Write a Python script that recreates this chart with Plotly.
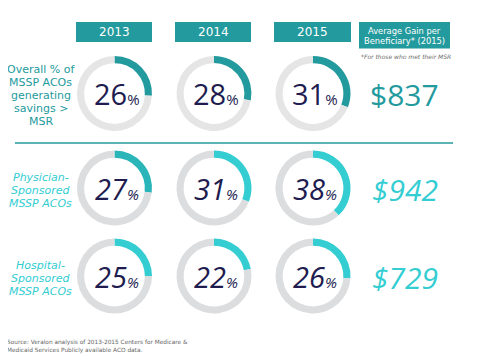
import plotly.graph_objects as go

years = ["2013", "2014", "2015"]
row_labels = [
    ["Overall % of", "MSSP ACOs", "generating", "savings >", "MSR"],
    ["Physician-", "Sponsored", "MSSP ACOs"],
    ["Hospital-", "Sponsored", "MSSP ACOs"],
]
overall_pct = [26, 28, 31]
physician_pct = [27, 31, 38]
hospital_pct = [25, 22, 26]
avg_gain = ["$837", "$942", "$729"]
gain_header = ["Average Gain per", "Beneficiary* (2015)"]
gain_note = "<i>*For those who met their MSR</i>"
source_lines = ["Source: Veralon analysis of 2013-2015 Centers for Medicare &",
                "Medicaid Services Publicly available ACO data."]

rows = [overall_pct, physician_pct, hospital_pct]

# page has an 8px body margin; figure occupies the rest of the 480x360 window
OFF = 8
W, H = 480 - OFF, 360 - OFF
TEAL = "#239a9d"
CYAN = "#33cdd2"
NAVY = "#211c4f"

col_cx = [114.5, 214, 313]
row_cy = [93.5, 188, 276]
R = 37.5

arc_colors = [
    [TEAL, TEAL, TEAL],
    ["#2ab6b9", CYAN, CYAN],
    [CYAN, CYAN, CYAN],
]
gray_colors = ["#e5e5e5", "#dcdddf", "#dcdddf"]

def px(x):
    return (x - OFF) / W

def py(y):
    return 1 - (y - OFF) / H

fig = go.Figure()

for r, vals in enumerate(rows):
    for c, v in enumerate(vals):
        cx, cy = col_cx[c], row_cy[r]
        fig.add_trace(go.Pie(
            values=[v, 100 - v],
            hole=0.81,
            sort=False,
            direction="clockwise",
            rotation=0,
            textinfo="none",
            hoverinfo="skip",
            marker=dict(colors=[arc_colors[r][c], gray_colors[r]], line=dict(width=0)),
            domain=dict(x=[px(cx - R), px(cx + R)], y=[py(cy + R), py(cy - R)]),
            showlegend=False,
        ))
        italic = r > 0
        num = f"<i>{v}</i>" if italic else f"{v}"
        pct = "<i>%</i>" if italic else "%"
        fig.add_annotation(
            x=px(cx + 2), y=py(cy), xref="paper", yref="paper",
            text=f"{num}<span style='font-size:15px'>{pct}</span>",
            showarrow=False, xanchor="center", yanchor="middle",
            font=dict(family="Open Sans", size=29, color=NAVY),
        )

shapes = []
header_x = [(76, 152), (175, 251), (274, 351)]
for (x0, x1), yr in zip(header_x, years):
    shapes.append(dict(type="rect", xref="paper", yref="paper",
                       x0=px(x0), x1=px(x1), y0=py(42), y1=py(22),
                       fillcolor=TEAL, line=dict(width=0)))
    fig.add_annotation(x=px((x0 + x1) / 2), y=py(32.5), xref="paper", yref="paper",
                       text=yr, showarrow=False, xanchor="center", yanchor="middle",
                       font=dict(family="DejaVu Sans", size=12, color="white"))
shapes.append(dict(type="rect", xref="paper", yref="paper",
                   x0=px(359), x1=px(450), y0=py(48.5), y1=py(22),
                   fillcolor=TEAL, line=dict(width=0)))
for i, ln in enumerate(gain_header):
    fig.add_annotation(x=px(404.5), y=py(31 + 10 * i), xref="paper", yref="paper",
                       text=ln, showarrow=False, xanchor="center", yanchor="middle",
                       font=dict(family="DejaVu Sans", size=8.3, color="white"))
fig.add_annotation(x=px(406), y=py(57), xref="paper", yref="paper",
                   text=gain_note, showarrow=False, xanchor="center", yanchor="middle",
                   font=dict(family="DejaVu Sans", size=6, color="#6a6a6a"))

shapes.append(dict(type="line", xref="paper", yref="paper",
                   x0=px(15), x1=px(453), y0=py(143), y1=py(143),
                   line=dict(color=TEAL, width=1.5)))

label_colors = [TEAL, CYAN, CYAN]
line_gap = 13
for r, lines in enumerate(row_labels):
    n = len(lines)
    for i, ln in enumerate(lines):
        yy = row_cy[r] + 2 + (i - (n - 1) / 2) * line_gap
        t = ln if r == 0 else f"<i>{ln}</i>"
        fig.add_annotation(x=px(40.5), y=py(yy), xref="paper", yref="paper",
                           text=t, showarrow=False, xanchor="center", yanchor="middle",
                           font=dict(family="DejaVu Sans", size=11, color=label_colors[r]))

for r, g in enumerate(avg_gain):
    t = g if r == 0 else f"<i>{g}</i>"
    fig.add_annotation(x=px(404.5), y=py(row_cy[r] + 1), xref="paper", yref="paper",
                       text=t, showarrow=False, xanchor="center", yanchor="middle",
                       font=dict(family="Open Sans", size=30, color=label_colors[r]))

for i, ln in enumerate(source_lines):
    fig.add_annotation(x=px(5), y=py(342 + 8 * i), xref="paper", yref="paper",
                       text=ln, showarrow=False, xanchor="left", yanchor="middle",
                       font=dict(family="DejaVu Sans", size=5.8, color="#666666"))

fig.update_layout(
    width=W, height=H,
    margin=dict(l=0, r=0, t=0, b=0),
    paper_bgcolor="white", plot_bgcolor="white",
    shapes=shapes,
)

fig.write_html("out.html")
